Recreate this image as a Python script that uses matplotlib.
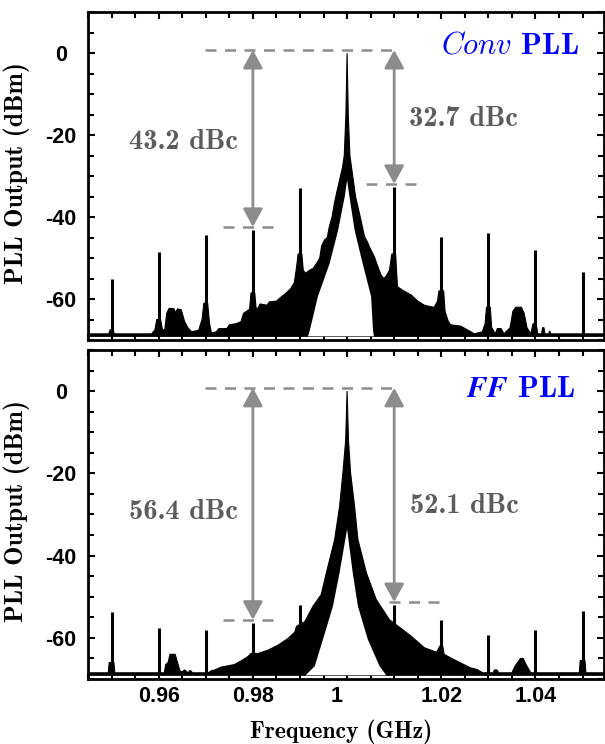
import numpy as np
import matplotlib
matplotlib.use("Agg")
import matplotlib.pyplot as plt
from matplotlib.ticker import MultipleLocator, FixedLocator
import matplotlib.transforms as mtransforms

# ---- data ----
# spurs (GHz, dBm)
spur_f = [0.95, 0.96, 0.97, 0.98, 0.99, 1.01, 1.02, 1.03, 1.04, 1.05]
conv_spur_db = [-55.0, -48.6, -44.4, -43.2, -33.0, -32.7, -44.8, -44.0, -48.0, -53.3]
ff_spur_db = [-53.7, -57.7, -58.2, -56.4, -51.9, -52.1, -55.6, -59.2, -58.2, -53.5]

# upper envelope of the trace (carrier skirt, floor, bumps)
conv_env_f = [0.9451, 0.9494, 0.9497, 0.9503, 0.9506, 0.9585, 0.9592, 0.9596, 0.9604, 0.9608,
              0.9613, 0.9617, 0.9622, 0.9632, 0.9636, 0.9640, 0.9648, 0.9655, 0.9662, 0.9670,
              0.9685, 0.9692, 0.9696, 0.9704, 0.9708, 0.9712, 0.9722, 0.9728, 0.9745, 0.9750,
              0.9765, 0.9775, 0.9780, 0.9793, 0.9796, 0.9804, 0.9807, 0.9812, 0.9815, 0.9830,
              0.9835, 0.9850, 0.9860, 0.9870, 0.9880, 0.9888, 0.9893, 0.9896, 0.9904, 0.9907,
              0.9912, 0.9920, 0.9928, 0.9935, 0.9942, 0.9946, 0.9952, 0.9958, 0.9962, 0.9968,
              0.9973, 0.9978, 0.9984, 0.9990, 0.9994, 0.99975, 1.0, 1.00025, 1.0006, 1.0012,
              1.0018, 1.0023, 1.0030, 1.0037, 1.0043, 1.0048, 1.0058, 1.0065, 1.0072, 1.0078,
              1.0083, 1.0090, 1.0095, 1.0103, 1.0107, 1.0120, 1.0136, 1.0150, 1.0164, 1.0175,
              1.0185, 1.0192, 1.0195, 1.0205, 1.0208, 1.0215, 1.0220, 1.0241, 1.0255, 1.0263,
              1.0270, 1.0287, 1.0293, 1.0296, 1.0304, 1.0307, 1.0315, 1.0319, 1.0327, 1.0333,
              1.0346, 1.0352, 1.0358, 1.0370, 1.0376, 1.0382, 1.0390, 1.0395, 1.0401, 1.0405,
              1.0413, 1.0415, 1.0418, 1.0420, 1.0428, 1.0430, 1.0433, 1.0545]
conv_env_db = [-68.5, -68.5, -67.5, -67.5, -68.5, -68.5, -67.5, -65.0, -65.0, -67.5,
               -67.5, -63.5, -62.3, -62.3, -63.3, -62.4, -62.6, -65.5, -67.0, -68.0,
               -67.6, -65.0, -61.0, -61.0, -66.0, -68.3, -68.0, -67.2, -67.2, -66.3,
               -66.0, -65.5, -63.5, -62.5, -58.5, -58.5, -62.5, -62.0, -61.2, -61.5,
               -60.7, -60.5, -59.5, -58.6, -57.5, -56.0, -52.0, -49.0, -49.0, -53.0,
               -53.7, -53.0, -52.5, -51.3, -50.0, -47.0, -45.6, -45.0, -42.5, -40.0,
               -36.7, -34.0, -31.0, -28.0, -25.0, -15.0, 0.0, -15.0, -25.0, -30.0,
               -35.0, -37.5, -41.0, -44.8, -46.0, -47.4, -49.7, -52.0, -54.1, -55.0,
               -54.4, -53.0, -49.0, -49.0, -57.0, -58.0, -59.0, -60.5, -61.5, -61.8,
               -62.0, -60.5, -58.0, -58.0, -63.0, -65.5, -66.3, -66.6, -67.5, -68.0,
               -68.5, -68.0, -66.0, -62.0, -62.0, -67.0, -68.5, -67.2, -67.2, -68.5,
               -67.0, -63.0, -62.0, -62.0, -63.5, -67.0, -68.5, -66.0, -66.0, -68.5,
               -68.5, -67.0, -67.0, -68.5, -68.5, -67.8, -68.5, -68.5]
# white gap under the carrier (inner edge of the trace)
conv_hole_f = [0.9917, 0.9921, 0.9938, 0.9963, 0.9981, 0.9995, 1.0, 1.0005,
               1.0016, 1.0033, 1.0051, 1.0055, 1.0057]
conv_hole_db = [-69.1, -67.6, -59.4, -51.3, -43.2, -35.0, -31.0, -35.0,
                -43.2, -51.3, -59.4, -67.6, -69.1]

ff_env_f = [0.9451, 0.9493, 0.9495, 0.9505, 0.9507, 0.9612, 0.9615, 0.9620, 0.9624, 0.9635,
            0.9640, 0.9645, 0.9650, 0.9655, 0.9662, 0.9667, 0.9672, 0.9705, 0.9712, 0.9719,
            0.9733, 0.9747, 0.9761, 0.9775, 0.9789, 0.9796, 0.9811, 0.9832, 0.9853, 0.9874,
            0.9889, 0.98926, 0.9910, 0.99277, 0.9945, 0.9956, 0.99736, 0.99841, 0.99911, 0.9997,
            1.0, 1.0003, 1.00074, 1.00159, 1.0023, 1.0041, 1.0062, 1.0090, 1.0118, 1.0136,
            1.0164, 1.0190, 1.0197, 1.0203, 1.0206, 1.0227, 1.0241, 1.0262, 1.0276, 1.0288,
            1.0310, 1.0313, 1.0318, 1.0322, 1.0350, 1.0356, 1.0362, 1.0368, 1.0374, 1.0380,
            1.0390, 1.0493, 1.0495, 1.0505, 1.0507, 1.0545]
ff_env_db = [-68.5, -68.5, -66.0, -66.0, -68.5, -68.5, -66.5, -66.0, -64.0, -64.0,
             -66.0, -68.0, -68.3, -67.8, -68.5, -67.9, -68.5, -68.5, -68.0, -67.8,
             -67.1, -66.8, -66.5, -65.6, -64.6, -63.8, -63.8, -63.0, -61.8, -60.2,
             -58.6, -57.2, -56.1, -52.3, -49.5, -44.2, -36.1, -28.0, -19.9, -12.0,
             0.0, -12.0, -19.9, -28.0, -36.1, -44.2, -50.7, -55.6, -58.0, -59.6,
             -62.4, -63.5, -62.0, -62.0, -64.0, -65.3, -66.1, -67.3, -67.7, -68.5,
             -68.5, -67.8, -67.8, -68.5, -68.5, -67.0, -66.0, -65.0, -65.0, -66.5,
             -68.5, -68.5, -65.5, -65.5, -68.5, -68.5]
ff_hole_f = [0.9912, 0.99313, 0.99488, 0.9970, 0.9984, 1.0, 1.0012, 1.0023,
             1.0044, 1.0069, 1.0083]
ff_hole_db = [-69.1, -66.9, -60.4, -52.3, -44.2, -33.6, -44.2, -52.3,
              -60.4, -66.9, -69.1]

# measured spur suppression (left spur @0.98, right spur @1.01)
conv_dbc = [43.2, 32.7]
ff_dbc = [56.4, 52.1]
marker_f = [0.98, 1.01]

xticks = [0.96, 0.98, 1.0, 1.02, 1.04]
xticklabels = ['0.96', '0.98', '1', '1.02', '1.04']
yticks = [-60, -40, -20, 0]
yticklabels = ['-60', '-40', '-20', '0']

GRAY_LINE = '#8c8c8c'
GRAY_TEXT = '#5c5c5c'
SERIF = 'cmb10'
FLOOR = -69.1

fig = plt.figure(figsize=(6.05, 7.44), dpi=100)
ax1 = fig.add_axes([0.1455, 0.543, 0.8525, 0.4405])
ax2 = fig.add_axes([0.1455, 0.0874, 0.8525, 0.4422])


def draw_panel(ax, env_f, env_db, hole_f, hole_db, spur_db, dbc, right_seg, text_y):
    # trace body down to the floor, then the white gap under the carrier
    px = [env_f[0]] + list(env_f) + [env_f[-1]]
    py = [FLOOR] + list(env_db) + [FLOOR]
    ax.fill(px, py, color='black', lw=0.8, zorder=2)
    ax.fill(hole_f, hole_db, color='white', lw=0, zorder=2.1)
    ax.vlines(spur_f, -68.8, spur_db, color='black', lw=2.2, zorder=2.2)

    # carrier reference and spur markers
    ax.plot([0.9699, 1.0107], [0.8, 0.8], color=GRAY_LINE, lw=1.8,
            dashes=(4.4, 3.4), zorder=3)
    ax.plot([0.9737, 0.9857], [0.8 - dbc[0]] * 2, color=GRAY_LINE, lw=1.8,
            dashes=(4.4, 3.4), zorder=3)
    ax.plot(right_seg, [0.8 - dbc[1]] * 2, color=GRAY_LINE, lw=1.8,
            dashes=(4.4, 3.4), zorder=3)
    for fm, d in zip(marker_f, dbc):
        ax.annotate('', xy=(fm, 0.8 - d), xytext=(fm, 0.8),
                    arrowprops=dict(arrowstyle='<|-|>,head_length=0.55,head_width=0.3',
                                    color=GRAY_LINE, lw=2.0, mutation_scale=20,
                                    shrinkA=0, shrinkB=0), zorder=4)
    ax.text(0.9652, text_y[0], '%.1f dBc' % dbc[0], color=GRAY_TEXT,
            fontsize=20.5, fontfamily=SERIF, ha='center', va='center')
    ax.text(1.0248, text_y[1], '%.1f dBc' % dbc[1], color=GRAY_TEXT,
            fontsize=20.5, fontfamily=SERIF, ha='center', va='center')

    ax.set_xlim(0.945, 1.0545)
    ax.set_ylim(-70, 10)
    ax.xaxis.set_major_locator(FixedLocator(xticks))
    ax.xaxis.set_minor_locator(MultipleLocator(0.005))
    ax.yaxis.set_major_locator(FixedLocator(yticks))
    ax.yaxis.set_minor_locator(MultipleLocator(5))
    ax.tick_params(which='both', direction='in', top=True, right=True,
                   width=1.5, labelsize=15.5, pad=5)
    ax.tick_params(axis='y', which='both', pad=19.5)
    ax.tick_params(which='major', length=5)
    ax.tick_params(which='minor', length=4)
    ax.set_yticklabels(yticklabels, fontfamily='Liberation Sans', fontweight='bold',
                       ha='center')
    for s in ax.spines.values():
        s.set_linewidth(2.0)
    ax.set_ylabel('PLL Output (dBm)', fontsize=18.5, fontfamily=SERIF)
    ax.yaxis.set_label_coords(-0.112, 0.51)


draw_panel(ax1, conv_env_f, conv_env_db, conv_hole_f, conv_hole_db, conv_spur_db,
           conv_dbc, [1.0041, 1.0161], [-21.6, -16.0])
draw_panel(ax2, ff_env_f, ff_env_db, ff_hole_f, ff_hole_db, ff_spur_db,
           ff_dbc, [1.0090, 1.0206], [-29.4, -28.0])

ax1.tick_params(labelbottom=False)
ax2.set_xticklabels(xticklabels, fontfamily='Liberation Sans', fontweight='bold')
ax2.set_xlabel('Frequency (GHz)', fontsize=17, fontfamily=SERIF)
ax2.xaxis.set_label_coords(0.491, -0.122)
# the "1" label sits a little left of its tick in the original
for lbl in ax2.get_xticklabels():
    if lbl.get_text() == '1':
        lbl.set_transform(lbl.get_transform() +
                          mtransforms.ScaledTranslation(-0.1, 0, fig.dpi_scale_trans))

# panel titles
ax1.text(1.0492, 1.7, r'$\mathit{Conv}$ PLL', color='#0000ff', fontsize=22,
         fontfamily=SERIF, math_fontfamily='cm', ha='right', va='center')
ax2.text(1.0485, 0.3, r'$\mathbfit{FF}$ PLL', color='#0000ff', fontsize=22,
         fontfamily=SERIF, math_fontfamily='stix', ha='right', va='center')

fig.savefig('out.png', dpi=100)
